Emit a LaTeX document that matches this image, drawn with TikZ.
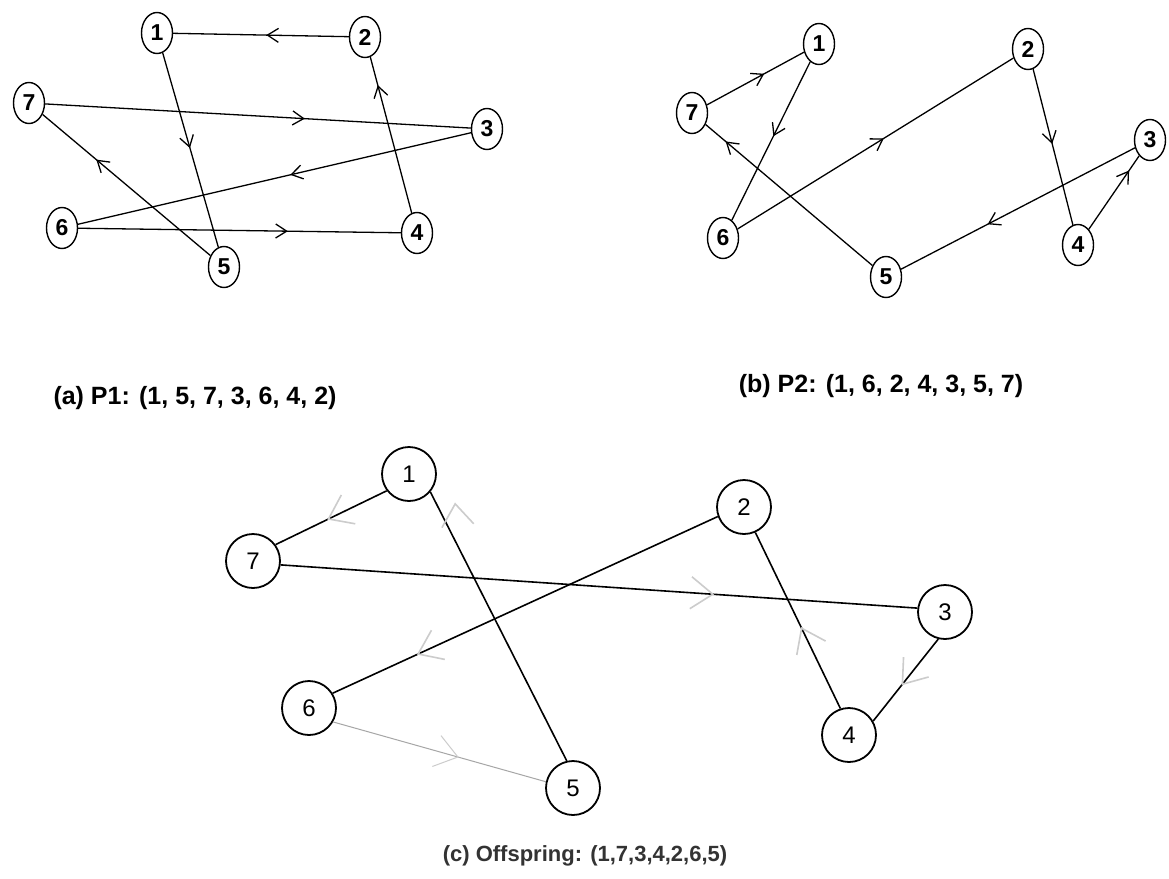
\documentclass[tikz,border=0pt]{standalone}
\usepackage{fontspec}
\setmainfont{Liberation Sans}
\usetikzlibrary{shapes.geometric,arrows.meta,decorations.markings}
\tikzset{
  enode/.style={ellipse, draw, line width=1.4pt, minimum width=31pt, minimum height=41pt, inner sep=0pt,
    font=\fontsize{23}{23}\selectfont\bfseries},
  cnode/.style={circle, draw, line width=1.8pt, minimum size=54pt, inner sep=0pt,
    font=\fontsize{24}{24}\selectfont},
  eline/.style={line width=1.3pt},
  cline/.style={line width=1.6pt},
  cthin/.style={line width=1pt, gray!70},
  arrowat/.style={postaction={decorate,decoration={markings,
    mark=at position #1 with {\arrow{Straight Barb[length=11pt,width=14pt]}}}}},
  garrowat/.style={postaction={line width=0.9pt, decorate,decoration={markings,
    mark=at position #1 with {\arrow{Straight Barb[length=22pt,width=32pt,color=gray!40]}}}}},
  capab/.style={font=\fontsize{25}{25}\selectfont\bfseries},
  capc/.style={font=\fontsize{22}{22}\selectfont\bfseries, text=black!80},
}
\begin{document}
\begin{tikzpicture}[x=1pt,y=-1pt]
\useasboundingbox[fill=white] (0,0) rectangle (1169,878);

% ---------- (a) P1 ----------
\node[enode] (a1) at (157,33) {1};
\node[enode] (a2) at (365,37) {2};
\node[enode] (a7) at (29,103) {7};
\node[enode] (a3) at (487,129) {3};
\node[enode] (a6) at (62,228) {6};
\node[enode] (a4) at (417,233) {4};
\node[enode] (a5) at (224,267) {5};
\draw[eline, arrowat=0.49] (a1) -- (a5);
\draw[eline, arrowat=0.68] (a5) -- (a7);
\draw[eline, arrowat=0.61] (a7) -- (a3);
\draw[eline, arrowat=0.46] (a3) -- (a6);
\draw[eline, arrowat=0.65] (a6) -- (a4);
\draw[eline, arrowat=0.82] (a4) -- (a2);
\draw[eline, arrowat=0.47] (a2) -- (a1);
\node[capab] (capa) at (195,398) {(a) P1: (1, 5, 7, 3, 6, 4, 2)};

% ---------- (b) P2 ----------
\node[enode] (b1) at (819,44) {1};
\node[enode] (b7) at (692,113) {7};
\node[enode] (b6) at (723,238) {6};
\node[enode] (b5) at (886,277) {5};
\node[enode] (b2) at (1028,49) {2};
\node[enode] (b3) at (1150,140) {3};
\node[enode] (b4) at (1078,245) {4};
\draw[eline, arrowat=0.47] (b1) -- (b6);
\draw[eline, arrowat=0.53] (b6) -- (b2);
\draw[eline, arrowat=0.48] (b2) -- (b4);
\draw[eline, arrowat=0.80] (b4) -- (b3);
\draw[eline, arrowat=0.63] (b3) -- (b5);
\draw[eline, arrowat=0.88] (b5) -- (b7);
\draw[eline, arrowat=0.59] (b7) -- (b1);
\node[capab] (capb) at (881,386) {(b) P2: (1, 6, 2, 4, 3, 5, 7)};

% ---------- (c) Offspring ----------
\node[cnode] (c1) at (409,474) {1};
\node[cnode] (c2) at (744,507) {2};
\node[cnode] (c7) at (253,561) {7};
\node[cnode] (c3) at (945,612) {3};
\node[cnode] (c6) at (309,708) {6};
\node[cnode] (c4) at (849,735) {4};
\node[cnode] (c5) at (573,788) {5};
\draw[cline, garrowat=0.53] (c1.217) -- (c7.36);
\draw[cline, garrowat=0.68] (c7.-8) -- (c3.172);
\draw[cline, garrowat=0.56] (c3.256) -- (c4.30);
\draw[cline, garrowat=0.46] (c4.108) -- (c2.-66);
\draw[cline, garrowat=0.78] (c2.200) -- (c6.32);
\draw[cthin, garrowat=0.59] (c6.-30) -- (c5.167);
\draw[cline, postaction={line width=0.9pt, decorate, decoration={markings,
    mark=at position 0.93 with {\pgftransformyshift{-17pt}\pgftransformrotate{-20}\arrow{Straight Barb[length=22pt,width=32pt,color=gray!40]}}}}]
    (c5.103) -- (c1.-40);
\node[capc] (capc) at (585,856) {(c) Offspring: (1,7,3,4,2,6,5)};
\end{tikzpicture}
\end{document}
